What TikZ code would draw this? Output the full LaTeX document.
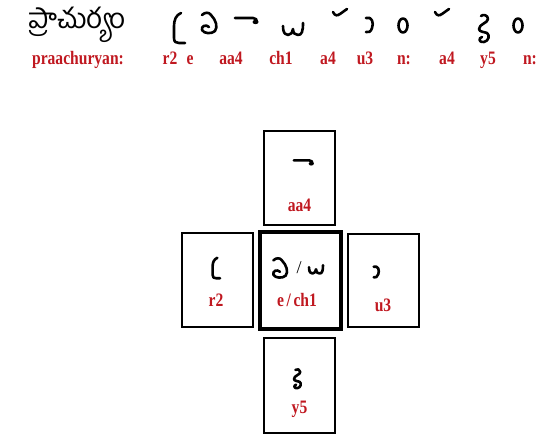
\documentclass[tikz,border=0pt]{standalone}
\usepackage{fontspec}
\setmainfont{Liberation Serif}
\newfontfamily\telugu[Script=Telugu]{Hind Guntur}
\definecolor{labred}{RGB}{192,24,32}
\newcommand\condtxt[1]{\scalebox{0.82}[1]{#1}}
\tikzset{
  gl/.style={line width=2.6pt, line cap=round, line join=round, black},
  lab/.style={text=labred, font=\fontsize{19}{19}\selectfont\bfseries, inner sep=0pt, anchor=base},
  sbox/.style={draw, line width=1.4pt, minimum width=71pt, minimum height=94pt, inner sep=0pt},
  cbox/.style={draw, line width=3.5pt, minimum width=81pt, minimum height=97pt, inner sep=0pt},
  gRtwo/.pic={\draw[gl] (2,-15) .. controls (-3,-13) and (-5,-8) .. (-5,-2) -- (-5,10) .. controls (-5,14) and (-3,15) .. (0,15) -- (6,15);},
  gE/.pic={\draw[gl] (-7,-8) .. controls (-4,-11) and (0,-11) .. (2,-8) .. controls (7,-3) and (9,4) .. (6,8) .. controls (3,11) and (-5,11) .. (-7,7) .. controls (-8,3) and (-3,1) .. (0,4);},
  gAA/.pic={\draw[gl] (-12,-2) -- (6,-2) .. controls (9,-2) and (10,0) .. (10,2); \fill (8.5,2) ellipse (3 and 2.2);},
  gCH/.pic={\draw[gl] (-10,-4) .. controls (-10,4) and (-7,5) .. (-5,5) .. controls (-2,5) and (0,2) .. (0,-1) .. controls (0,3) and (2,5) .. (5,5) .. controls (9,5) and (10,1) .. (10,-7);},
  gTick/.pic={\draw[gl] (-7,-1) .. controls (-5,3) and (-3,3) .. (0,1) -- (7,-4);},
  gU/.pic={\draw[gl] (-3,-7) .. controls (3,-9) and (5,-2) .. (3,3) .. controls (2,7) and (-1,8) .. (-3,7);},
  gN/.pic={\draw[gl] (0,0) ellipse (4.5 and 7);},
  gY/.pic={\draw[gl] (-3,-13) .. controls (-1,-15) and (4,-14) .. (4,-10) .. controls (4,-6) and (-5,-5) .. (-5,0) .. controls (-5,3) and (1,3) .. (3,4) .. controls (6,6) and (5,12) .. (0,13) .. controls (-5,14) and (-6,9) .. (-2,8);},
}
\begin{document}
\begin{tikzpicture}[x=1pt,y=-1pt]
\useasboundingbox (0,0) rectangle (543,434);
% word
\node[inner sep=0pt, anchor=west] (word) at (28,25) {\telugu\fontsize{28}{28}\selectfont ప్రాచుర్యం};
% top row glyph fragments
\pic at (179,28) {gRtwo};
\pic at (209,23) {gE};
\pic at (247,20) {gAA};
\pic at (293,30) {gCH};
\pic at (340,13) {gTick};
\pic at (369,25) {gU};
\pic at (403,25.5) {gN};
\pic at (442,13) {gTick};
\pic at (484,29) {gY};
\pic at (518,25.5) {gN};
% red labels
\node[lab] (lw) at (78,64) {\condtxt{praachuryan:}};
\node[lab] (l1) at (170,64) {\condtxt{r2}};
\node[lab] (l2) at (190,64) {\condtxt{e}};
\node[lab] (l3) at (231,64) {\condtxt{aa4}};
\node[lab] (l4) at (281,64) {\condtxt{ch1}};
\node[lab] (l5) at (328,64) {\condtxt{a4}};
\node[lab] (l6) at (365,64) {\condtxt{u3}};
\node[lab] (l7) at (404,64) {\condtxt{n:}};
\node[lab] (l8) at (447,64) {\condtxt{a4}};
\node[lab] (l9) at (488,64) {\condtxt{y5}};
\node[lab] (l10) at (530,64) {\condtxt{n:}};
% boxes
\node[sbox] (top) at (299.5,178) {};
\node[sbox] (left) at (217.5,280) {};
\node[cbox] (mid) at (300.5,280.5) {};
\node[sbox, minimum height=93pt] (right) at (383.5,280.5) {};
\node[sbox, minimum height=95pt] (bot) at (299.5,385.5) {};
% box contents
\pic[scale=0.85] at (304,162) {gAA};
\node[lab] (ltop) at (299.5,211) {\condtxt{aa4}};
\pic[scale=0.68] at (216,268) {gRtwo};
\node[lab] (lleft) at (216,306) {\condtxt{r2}};
\pic[scale=0.95] at (280,268) {gE};
\node[inner sep=0pt, font=\fontsize{18}{18}\selectfont] (slash) at (299,268) {/};
\pic[scale=0.7] at (316,270) {gCH};
\node[lab] (lmid) at (297,306) {\condtxt{e\,/\,ch1}};
\pic[scale=0.75] at (376,272) {gU};
\node[lab] (lright) at (383,311) {\condtxt{u3}};
\pic[scale=0.7] at (297.5,379) {gY};
\node[lab] (lbot) at (299.5,413) {\condtxt{y5}};
\end{tikzpicture}
\end{document}
